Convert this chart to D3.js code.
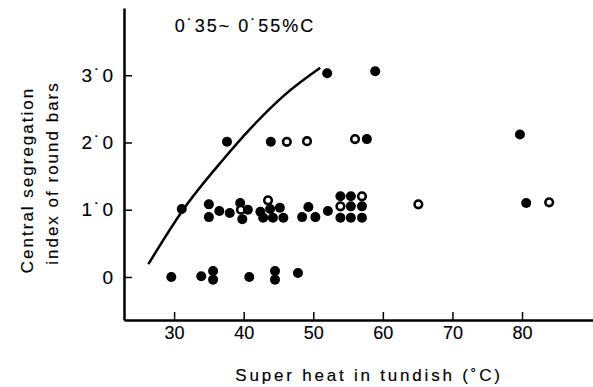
<!DOCTYPE html>
<html lang="en">

<head>
    <meta charset="utf-8">
    <script src='https://d3js.org/d3.v7.min.js'></script>
    <style>
        body { margin: 0; background: white; }
        text { stroke: black; stroke-width: 0.15px; }
    </style>
</head>

<body>
    <div class="chart"></div>

    <script>

        // data
        const superHeat = [29.6, 33.9, 35.6, 35.6, 40.8, 44.5, 44.5, 47.8,
            31.1, 35.0, 35.0, 36.5, 38.0, 39.5, 39.6, 40.6, 39.8, 42.4, 43.5, 43.8, 45.2, 42.8, 44.2, 45.7,
            48.4, 49.3, 50.3, 52.1,
            53.9, 55.4, 57.0, 53.9, 55.4, 57.0, 53.9, 55.4, 57.0,
            65.1, 80.6, 83.9,
            37.6, 43.9, 46.2, 49.1, 56.0, 57.7, 79.7,
            52.0, 58.9];
        const segIndex = [0.0, 0.01, 0.09, -0.04, 0.0, 0.09, -0.04, 0.06,
            1.01, 1.08, 0.89, 0.98, 0.95, 1.1, 1.0, 1.0, 0.86, 0.97, 1.14, 1.01, 1.03, 0.88, 0.88, 0.88,
            0.89, 1.04, 0.89, 0.98,
            1.2, 1.2, 1.2, 1.05, 1.05, 1.05, 0.88, 0.88, 0.88,
            1.08, 1.1, 1.11,
            2.01, 2.01, 2.01, 2.02, 2.05, 2.05, 2.12,
            3.03, 3.06];
        // 1 = open circle
        const openMark = [0, 0, 0, 0, 0, 0, 0, 0,
            0, 0, 0, 0, 0, 0, 1, 0, 0, 0, 1, 0, 0, 0, 0, 0,
            0, 0, 0, 0,
            0, 0, 1, 1, 0, 0, 0, 0, 0,
            1, 0, 1,
            0, 0, 1, 1, 1, 0, 0,
            0, 0];

        // fitted curve
        const curveX = [26.3, 31.3, 37.0, 41.0, 45.7, 51.0];
        const curveY = [0.19, 1.0, 1.74, 2.21, 2.69, 3.11];

        const xTicks = [30, 40, 50, 60, 70, 80];
        const yTicks = [0, 1, 2, 3];
        const yTickLabels = ["0", "1\u02D90", "2\u02D90", "3\u02D90"];

        const width = 593;
        const height = 387;
        const font = "'Liberation Sans', Arial, sans-serif";

        const svg = d3.select(".chart").append("svg")
            .attr("width", width)
            .attr("height", height)
            .style("font-family", font);

        // scales
        const x = d3.scaleLinear().domain([22.8, 90.2]).range([124, 593]);
        const y = d3.scaleLinear().domain([-0.64, 4.0]).range([320, 8]);

        // x axis, ticks pointing up
        const xAxis = svg.append("g")
            .attr("transform", "translate(0,320)")
            .call(d3.axisBottom(x).tickValues(xTicks).tickSizeInner(-8).tickSizeOuter(0).tickPadding(6));
        xAxis.select(".domain").attr("stroke-width", 2.5);
        xAxis.selectAll(".tick line").attr("stroke-width", 1.5);
        xAxis.selectAll("text").attr("fill", "black").style("font-size", "18px")
            .style("font-family", font);

        // y axis, ticks pointing right
        const yAxis = svg.append("g")
            .attr("transform", "translate(124,0)")
            .call(d3.axisLeft(y).tickValues(yTicks).tickSizeInner(-8).tickSizeOuter(0).tickPadding(9)
                .tickFormat((d, i) => yTickLabels[i]));
        yAxis.select(".domain").attr("stroke-width", 2.5);
        yAxis.selectAll(".tick line").attr("stroke-width", 1.5);
        yAxis.selectAll("text").attr("fill", "black").style("font-size", "19px")
            .style("letter-spacing", "2px")
            .style("font-family", font);

        // curve
        const curvePts = curveX.map((d, i) => ({ x: d, y: curveY[i] }));
        svg.append("path")
            .datum(curvePts)
            .attr("fill", "none")
            .attr("stroke", "black")
            .attr("stroke-width", 2.5)
            .attr("d", d3.line()
                .x(d => x(d.x))
                .y(d => y(d.y))
                .curve(d3.curveMonotoneX));

        // points
        const pts = superHeat.map((d, i) => ({ x: d, y: segIndex[i], open: openMark[i] }));
        svg.selectAll(".dot")
            .data(pts)
            .enter()
            .append("circle")
            .attr("class", "dot")
            .attr("cx", d => x(d.x))
            .attr("cy", d => y(d.y))
            .attr("r", d => d.open ? 3.8 : 5)
            .attr("fill", d => d.open ? "white" : "black")
            .attr("stroke", "black")
            .attr("stroke-width", d => d.open ? 2.6 : 0);

        // title inside plot
        svg.append("text")
            .attr("x", 245)
            .attr("y", 32)
            .attr("text-anchor", "middle")
            .style("font-size", "18px")
            .style("letter-spacing", "2px")
            .text("0\u02D935~ 0\u02D955%C");

        // axis titles
        svg.append("text")
            .attr("x", 369)
            .attr("y", 381)
            .attr("text-anchor", "middle")
            .style("font-size", "17px")
            .style("letter-spacing", "2.8px")
            .text("Super heat in tundish (\u02DAC)");

        svg.append("text")
            .attr("transform", "translate(33,180) rotate(-90)")
            .attr("text-anchor", "middle")
            .style("font-size", "17px")
            .style("letter-spacing", "2px")
            .text("Central segregation");

        svg.append("text")
            .attr("transform", "translate(58,173) rotate(-90)")
            .attr("text-anchor", "middle")
            .style("font-size", "17px")
            .style("letter-spacing", "2px")
            .text("index of round bars");

    </script>
</body>

</html>
